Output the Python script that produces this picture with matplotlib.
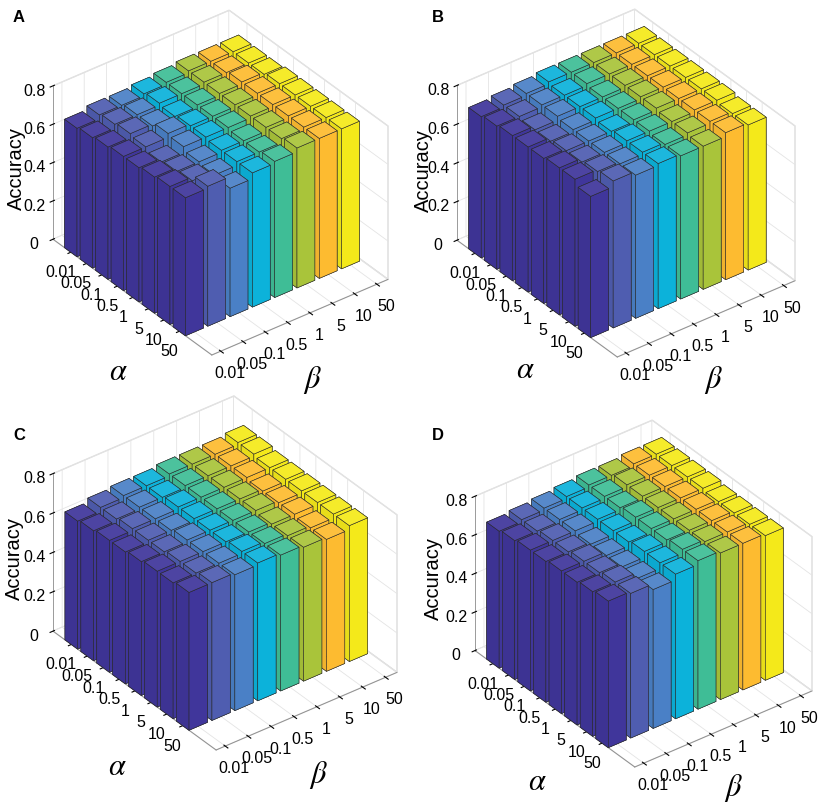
import matplotlib
matplotlib.use("Agg")
import numpy as np
import matplotlib.pyplot as plt
from matplotlib.colors import to_rgb
from mpl_toolkits.mplot3d import proj3d

plt.rcParams["font.family"] = ["Liberation Sans", "DejaVu Sans"]
plt.rcParams["mathtext.fontset"] = "stix"
plt.rcParams["grid.color"] = "#e4e4e4"
plt.rcParams["grid.linewidth"] = 0.6

# parameter values (same for alpha and beta)
param_labels = ["0.01", "0.05", "0.1", "0.5", "1", "5", "10", "50"]
z_ticks = [0, 0.2, 0.4, 0.6, 0.8]

# one colour per beta column (parula-like)
beta_colors = ["#40369b", "#4f5db0", "#4a80c6", "#0cb2da",
               "#3fbd96", "#a9c43a", "#fdbb30", "#f4e91a"]

# accuracy, rows = alpha (0.01 -> 50), columns = beta (0.01 -> 50)
acc_a = [
    [0.67, 0.69, 0.69, 0.70, 0.71, 0.72, 0.72, 0.72],
    [0.68, 0.70, 0.70, 0.71, 0.71, 0.72, 0.72, 0.72],
    [0.69, 0.71, 0.70, 0.70, 0.71, 0.72, 0.73, 0.72],
    [0.70, 0.70, 0.72, 0.71, 0.71, 0.72, 0.73, 0.73],
    [0.70, 0.68, 0.71, 0.71, 0.71, 0.72, 0.73, 0.73],
    [0.71, 0.69, 0.69, 0.70, 0.70, 0.72, 0.73, 0.73],
    [0.72, 0.70, 0.68, 0.70, 0.70, 0.72, 0.73, 0.73],
    [0.72, 0.73, 0.67, 0.70, 0.71, 0.73, 0.73, 0.73],
]
acc_b = [
    [0.73, 0.74, 0.75, 0.76, 0.76, 0.76, 0.76, 0.76],
    [0.74, 0.74, 0.75, 0.75, 0.76, 0.76, 0.76, 0.76],
    [0.75, 0.73, 0.75, 0.75, 0.75, 0.76, 0.76, 0.76],
    [0.75, 0.73, 0.74, 0.75, 0.75, 0.76, 0.76, 0.76],
    [0.75, 0.74, 0.74, 0.74, 0.75, 0.76, 0.76, 0.76],
    [0.76, 0.74, 0.74, 0.75, 0.75, 0.75, 0.76, 0.76],
    [0.76, 0.75, 0.74, 0.75, 0.74, 0.75, 0.76, 0.75],
    [0.73, 0.76, 0.74, 0.75, 0.74, 0.74, 0.76, 0.75],
]
acc_c = [
    [0.65, 0.67, 0.68, 0.68, 0.69, 0.69, 0.69, 0.70],
    [0.66, 0.67, 0.68, 0.68, 0.69, 0.69, 0.69, 0.70],
    [0.67, 0.68, 0.68, 0.69, 0.69, 0.69, 0.69, 0.69],
    [0.67, 0.68, 0.68, 0.69, 0.69, 0.69, 0.68, 0.69],
    [0.68, 0.68, 0.69, 0.69, 0.69, 0.69, 0.68, 0.69],
    [0.69, 0.69, 0.69, 0.69, 0.69, 0.68, 0.68, 0.69],
    [0.69, 0.69, 0.69, 0.70, 0.69, 0.68, 0.67, 0.69],
    [0.70, 0.70, 0.69, 0.70, 0.69, 0.68, 0.67, 0.69],
]
acc_d = [
    [0.71, 0.72, 0.73, 0.74, 0.75, 0.75, 0.76, 0.76],
    [0.72, 0.72, 0.73, 0.74, 0.75, 0.76, 0.76, 0.76],
    [0.73, 0.73, 0.73, 0.74, 0.75, 0.76, 0.76, 0.76],
    [0.73, 0.73, 0.72, 0.74, 0.76, 0.76, 0.76, 0.76],
    [0.74, 0.74, 0.72, 0.74, 0.76, 0.76, 0.76, 0.75],
    [0.74, 0.74, 0.72, 0.75, 0.76, 0.76, 0.76, 0.75],
    [0.75, 0.75, 0.72, 0.75, 0.77, 0.76, 0.76, 0.75],
    [0.76, 0.75, 0.72, 0.75, 0.77, 0.76, 0.76, 0.75],
]

W, H = 829, 809
AZIM, ELEV = -37.5, 34

# panel layout in pixels (from top-left): letter, box corners L.x, R.x, F.y,
# ylabel, alpha label, beta label positions
panels = [
    ("A", acc_a, (53, 388, 355), (13, 17), (16, 168), (118, 372), (312, 380)),
    ("B", acc_b, (457, 795, 357), (432, 17), (423, 170), (525, 370), (713, 380)),
    ("C", acc_c, (53, 397, 750), (13, 436), (14, 559), (117, 767), (318, 775)),
    ("D", acc_d, (475, 812, 767), (432, 436), (433, 578), (537, 782), (733, 788)),
]


def shade(c, f):
    r, g, b = to_rgb(c)
    if f >= 1:
        return (r + (1 - r) * (f - 1), g + (1 - g) * (f - 1), b + (1 - b) * (f - 1))
    return (r * f, g * f, b * f)


def draw_bars(ax, acc):
    acc = np.array(acc)
    n = acc.shape[0]
    cells = [(i, j) for i in range(n) for j in range(n)]
    # back to front so later bars cover earlier ones
    az = np.radians(AZIM)
    cells.sort(key=lambda c: (c[0] + 1) * np.cos(az) + (c[1] + 1) * np.sin(az))
    for i, j in cells:
        base = beta_colors[j]
        # faces: -z, +z, -y, +y, -x, +x
        fc = [base, shade(base, 1.07), shade(base, 0.95), base, base, base]
        ax.bar3d(i + 1 - 0.4, j + 1 - 0.4, 0, 0.8, 0.8, acc[i, j],
                 color=fc, shade=False, edgecolor="#2a2a2a", linewidth=0.4)


def fit_box(fig, ax, lx, rx, fy):
    for _ in range(4):
        fig.canvas.draw()
        M = ax.get_proj()
        x0, x1 = ax.get_xlim()
        y0, y1 = ax.get_ylim()
        pts = []
        for p in [(x0, y0, 0), (x1, y0, 0), (x1, y1, 0)]:
            px, py, _ = proj3d.proj_transform(p[0], p[1], p[2], M)
            pts.append(ax.transData.transform((px, py)))
        (Lx, Ly), (Fx, Fy), (Rx, Ry) = pts
        bb = ax.get_position()
        cx = (bb.x0 + bb.x1) / 2 * W
        cy = (bb.y0 + bb.y1) / 2 * H
        side = bb.width * W
        k = (rx - lx) / (Rx - Lx)
        s = side * k
        ncx = lx - k * (Lx - cx)
        ncy = (H - fy) - k * (Fy - cy)
        ax.set_position([(ncx - s / 2) / W, (ncy - s / 2) / H, s / W, s / H])


fig = plt.figure(figsize=(W / 100, H / 100), dpi=100)

for letter, acc, box, lpos, ypos, apos, bpos in panels:
    ax = fig.add_axes([0, 0, 400 / W, 400 / H], projection="3d",
                      computed_zorder=False)
    ax.set_proj_type("ortho")
    ax.view_init(elev=ELEV, azim=AZIM)
    draw_bars(ax, acc)
    ax.set_xlim(-0.15, 10.1)
    ax.set_ylim(0.6, 8.5)
    ax.set_zlim(0, 0.8)
    ax.set_box_aspect((1.41, 1.2, 1.0))
    ax.set_xticks(range(1, 9))
    ax.set_xticklabels(param_labels)
    ax.set_yticks(range(1, 9))
    ax.set_yticklabels(param_labels)
    ax.set_zticks(z_ticks)
    ax.set_zticklabels(["0", "0.2", "0.4", "0.6", "0.8"])
    ax.zaxis.set_ticks_position("lower")
    ax.tick_params(labelsize=11.5, pad=0)
    for axis in (ax.xaxis, ax.yaxis, ax.zaxis):
        axis.set_pane_color((1, 1, 1, 1))
        axis.pane.set_edgecolor("#dcdcdc")
        axis.line.set_color("#8a8a8a")
        axis.line.set_linewidth(0.6)
    fit_box(fig, ax, *box)

    fig.text(lpos[0] / W, 1 - lpos[1] / H, letter, fontsize=12,
             fontweight="bold", ha="left", va="center")
    fig.text(ypos[0] / W, 1 - ypos[1] / H, "Accuracy", fontsize=14.5,
             rotation=90, ha="center", va="center")
    fig.text(apos[0] / W, 1 - apos[1] / H, r"$\alpha$", fontsize=22,
             ha="center", va="center")
    fig.text(bpos[0] / W, 1 - bpos[1] / H, r"$\beta$", fontsize=22,
             ha="center", va="center")

fig.savefig("out.png", dpi=100)
